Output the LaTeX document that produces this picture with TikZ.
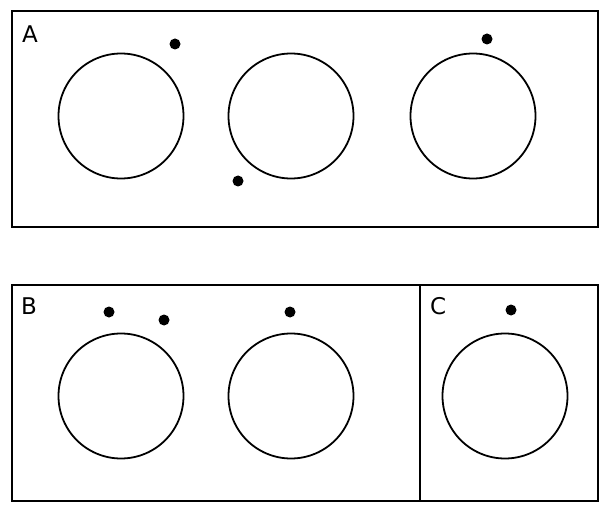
\documentclass[tikz,border=0pt]{standalone}
\usepackage{fontspec}
\setmainfont{DejaVu Sans}
\usepackage{tikz}
\usetikzlibrary{positioning}

\begin{document}
\begin{tikzpicture}[
  x=1pt,y=-1pt,
  font=\fontsize{23}{27}\selectfont,
  frame/.style={draw,line width=2.8pt},
  ring/.style={draw,circle,line width=1.8pt,minimum size=125pt,inner sep=0pt},
  dot/.style={fill,circle,minimum size=11pt,inner sep=0pt},
  tag/.style={anchor=base west,inner sep=0pt}
]
\useasboundingbox (0,0) rectangle (612,510);
% panels
\draw[frame] (12,11) rectangle (598,227);
\draw[frame] (12,285) rectangle (420,501);
\draw[frame] (420,285) rectangle (598,501);
\node[tag] (labA) at (22,43) {A};
\node[tag] (labB) at (21,314) {B};
\node[tag] (labC) at (430,314) {C};
% panel A
\node[ring] (a1) at (121,116) {};
\node[ring] (a2) at (291,116) {};
\node[ring] (a3) at (473,116) {};
\node[dot] (pa1) at (175,44) {};
\node[dot] (pa2) at (238,181) {};
\node[dot] (pa3) at (487,39) {};
% panel B
\node[ring] (b1) at (121,396) {};
\node[ring] (b2) at (291,396) {};
\node[dot] (pb1) at (109,312) {};
\node[dot] (pb2) at (164,320) {};
\node[dot] (pb3) at (290,312) {};
% panel C
\node[ring] (c1) at (505,396) {};
\node[dot] (pc1) at (511,310) {};
\end{tikzpicture}
\end{document}
